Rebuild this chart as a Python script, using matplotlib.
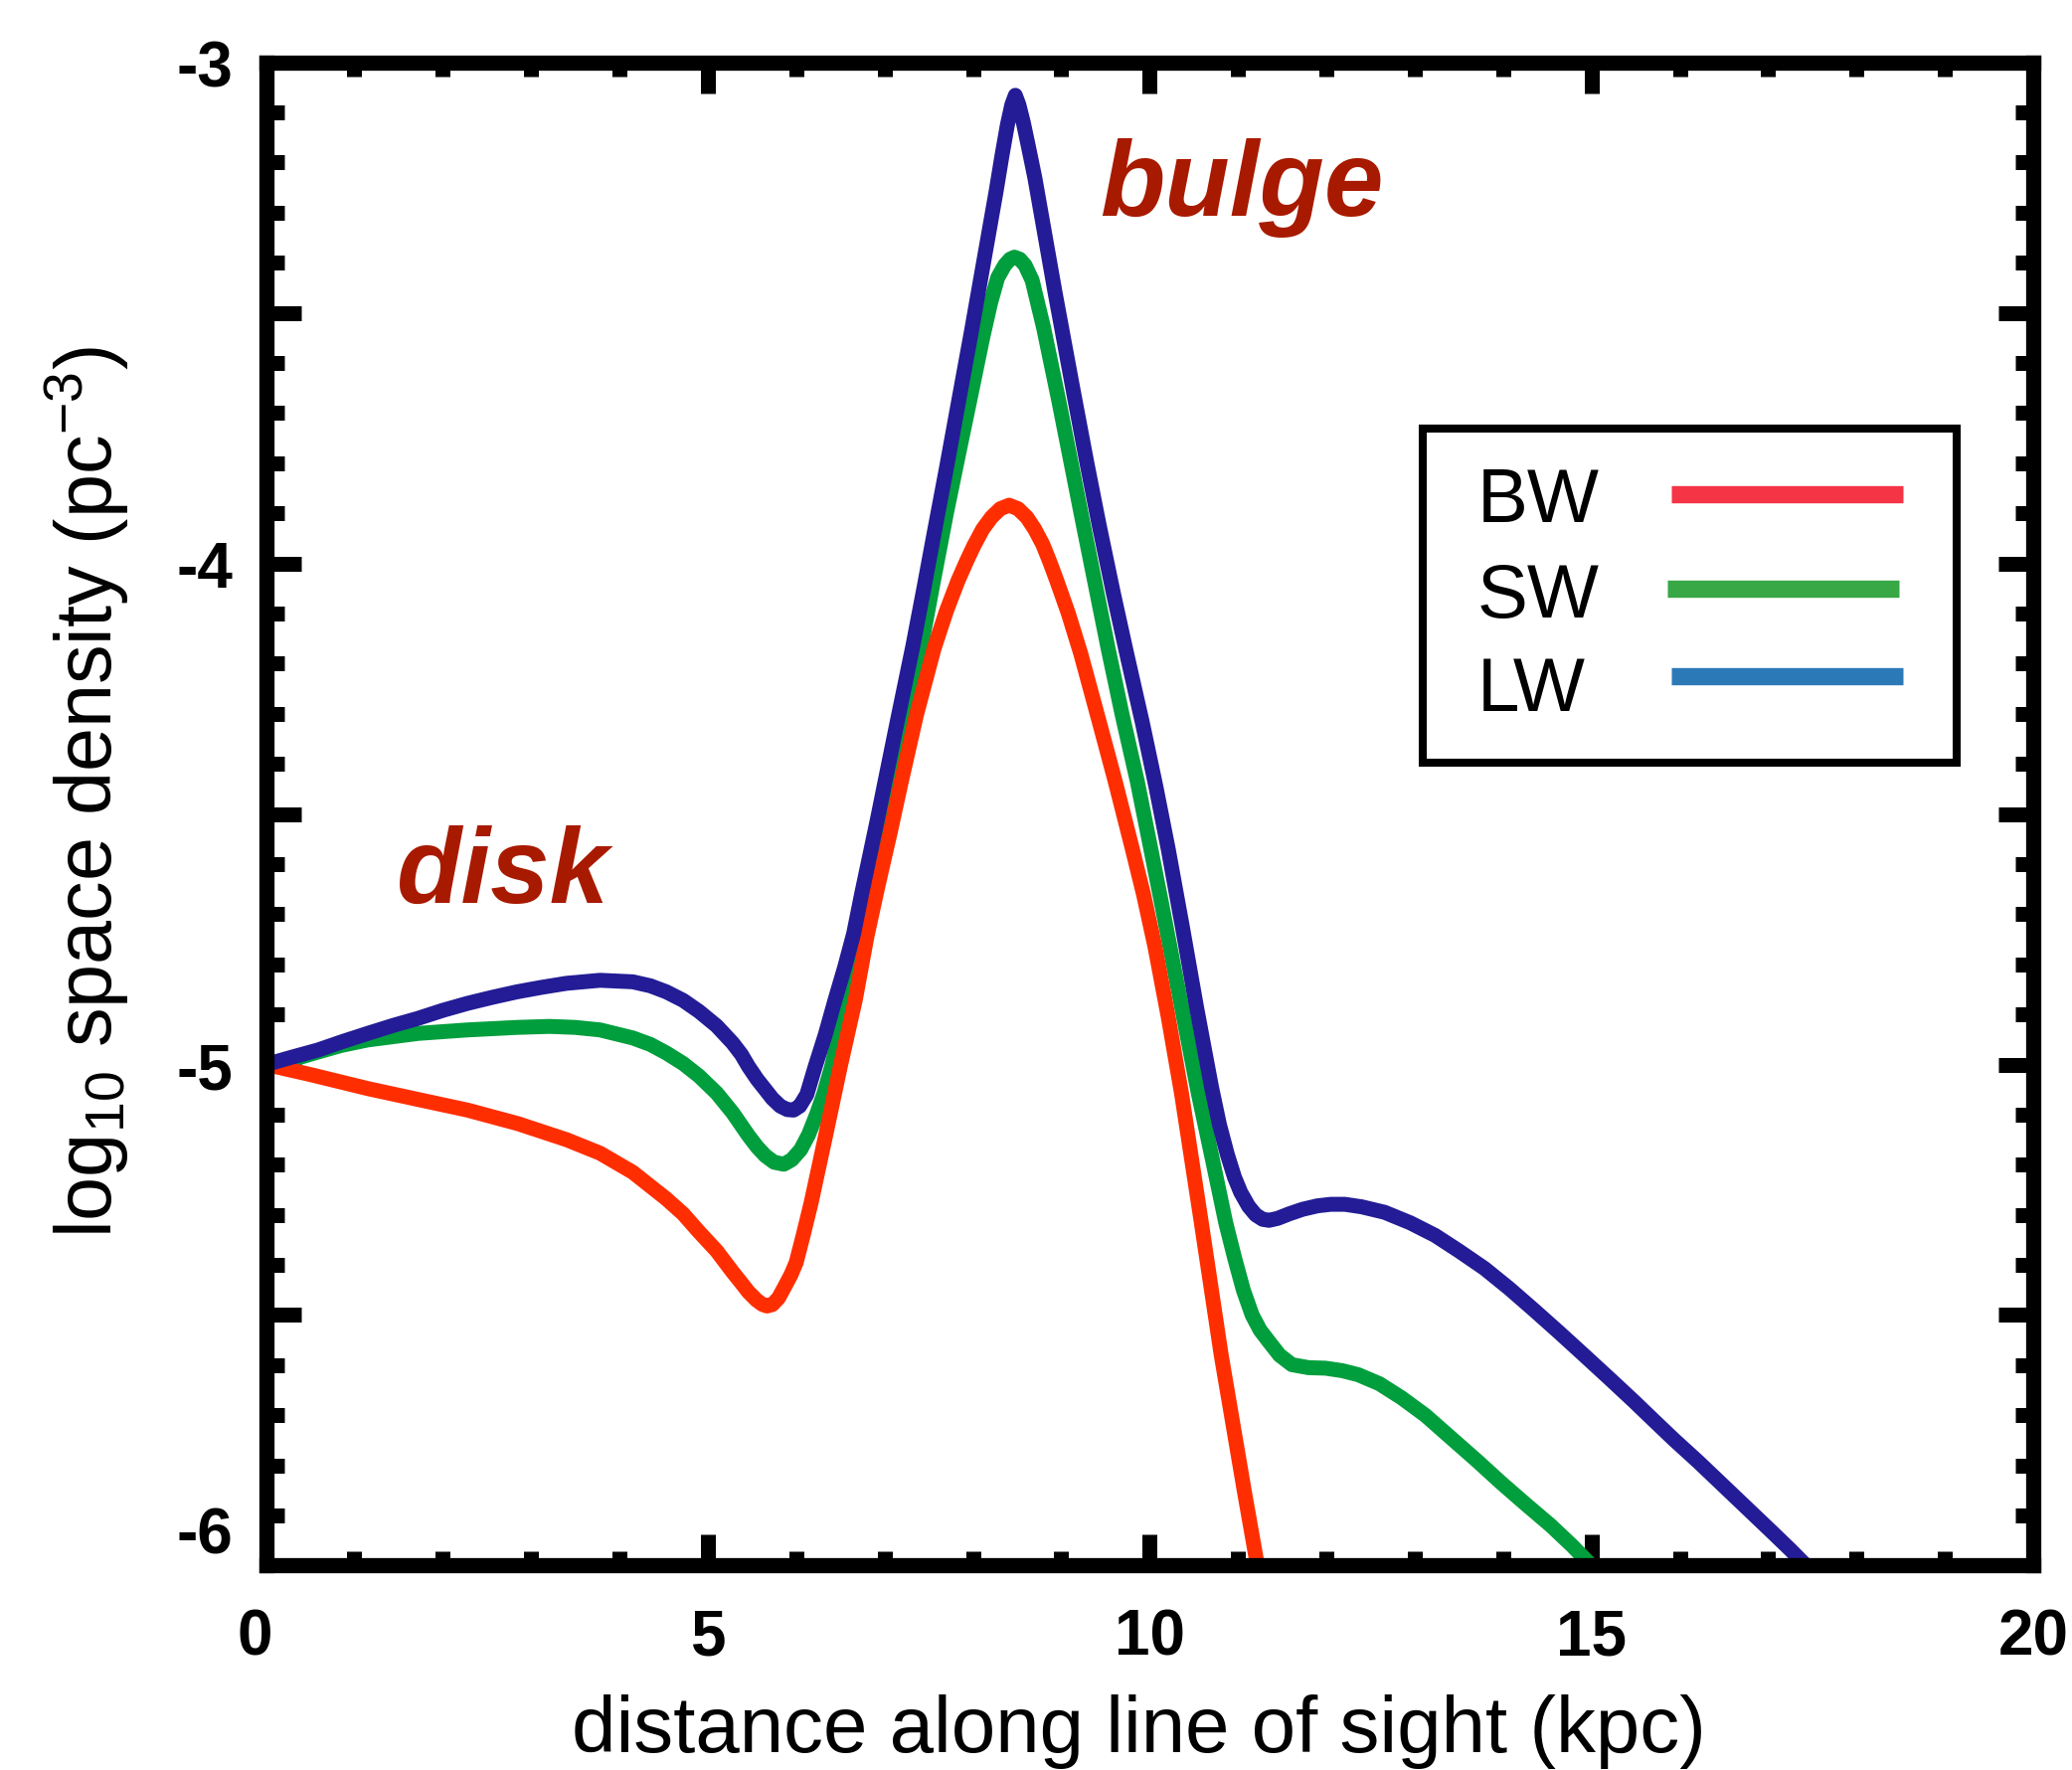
import matplotlib
matplotlib.use('Agg')
import matplotlib.pyplot as plt
import matplotlib.transforms as mtransforms
from matplotlib.patches import Rectangle
from matplotlib.ticker import MultipleLocator, FuncFormatter

plt.rcParams['font.family'] = ['Liberation Sans', 'DejaVu Sans']
plt.rcParams['mathtext.default'] = 'regular'

# values (kpc, log10 pc^-3)
bw_x = [0, 0.5, 1.15, 1.7, 2.28, 2.85, 3.40, 3.78, 4.15, 4.53, 4.72, 4.90, 5.10,
        5.28, 5.38, 5.46, 5.55, 5.62, 5.67, 5.73, 5.80, 5.88, 5.94, 6.00, 6.08,
        6.17, 6.34, 6.50, 6.67, 6.80, 6.93, 7.06, 7.19, 7.36, 7.56, 7.70, 7.83,
        7.93, 8.01, 8.11, 8.21, 8.31, 8.41, 8.51, 8.61, 8.70, 8.79, 8.87, 8.95,
        9.08, 9.22, 9.42, 9.61, 9.80, 9.93, 10.06, 10.21, 10.36, 10.58, 10.81,
        11.07, 11.22]
bw_y = [-5.0, -5.02, -5.048, -5.069, -5.091, -5.118, -5.150, -5.177, -5.215,
        -5.268, -5.298, -5.334, -5.372, -5.414, -5.436, -5.454, -5.470, -5.479,
        -5.482, -5.479, -5.466, -5.44, -5.42, -5.395, -5.34, -5.275, -5.136,
        -5.003, -4.87, -4.745, -4.64, -4.54, -4.435, -4.303, -4.17, -4.095, -4.035,
        -3.995, -3.965, -3.932, -3.908, -3.891, -3.884, -3.891, -3.908, -3.932,
        -3.962, -3.997, -4.035, -4.10, -4.18, -4.31, -4.435, -4.567, -4.66,
        -4.765, -4.905, -5.057, -5.31, -5.58, -5.85, -6.0]

sw_x = [0, 0.3, 0.59, 0.85, 1.15, 1.72, 2.28, 2.84, 3.21, 3.5, 3.78, 4.15, 4.35,
        4.53, 4.72, 4.90, 5.10, 5.28, 5.46, 5.56, 5.65, 5.75, 5.86, 5.95, 6.05,
        6.14, 6.23, 6.31, 6.40, 6.49, 6.60, 6.70, 6.81, 6.92, 7.11, 7.25, 7.41,
        7.55, 7.70, 7.84, 7.97, 8.11, 8.20, 8.28, 8.36, 8.42, 8.47, 8.53, 8.59,
        8.67, 8.80, 8.97, 9.10, 9.24, 9.38, 9.53, 9.69, 9.86, 10.01, 10.12, 10.23,
        10.40, 10.55, 10.71, 10.86, 10.96, 11.06, 11.16, 11.25, 11.35, 11.47,
        11.61, 11.80, 11.99, 12.18, 12.36, 12.60, 12.85, 13.12, 13.41, 13.70,
        13.98, 14.26, 14.54, 14.78, 15.0]
sw_y = [-5.0, -4.99, -4.975, -4.962, -4.951, -4.938, -4.931, -4.926, -4.924,
        -4.926, -4.931, -4.947, -4.96, -4.977, -4.998, -5.023, -5.057, -5.096,
        -5.142, -5.165, -5.182, -5.195, -5.199, -5.19, -5.17, -5.14, -5.10, -5.06,
        -5.005, -4.938, -4.84, -4.745, -4.66, -4.58, -4.435, -4.303, -4.17,
        -4.038, -3.90, -3.78, -3.67, -3.55, -3.48, -3.43, -3.405, -3.393, -3.389,
        -3.393, -3.405, -3.435, -3.53, -3.674, -3.79, -3.915, -4.038, -4.17,
        -4.303, -4.435, -4.567, -4.665, -4.765, -4.92, -5.057, -5.189, -5.315,
        -5.385, -5.45, -5.50, -5.53, -5.553, -5.58, -5.599, -5.605, -5.606,
        -5.611, -5.619, -5.637, -5.665, -5.70, -5.745, -5.79, -5.835, -5.878,
        -5.92, -5.96, -6.0]

lw_x = [0, 0.3, 0.59, 0.87, 1.15, 1.44, 1.72, 2.0, 2.28, 2.56, 2.84, 3.12, 3.40,
        3.78, 4.15, 4.35, 4.53, 4.72, 4.90, 5.10, 5.28, 5.38, 5.46, 5.56, 5.65,
        5.73, 5.82, 5.90, 5.97, 6.04, 6.12, 6.215, 6.33, 6.44, 6.55, 6.65, 6.74,
        6.83, 6.92, 7.00, 7.15, 7.32, 7.45, 7.55, 7.70, 7.85, 7.98, 8.11, 8.26,
        8.33, 8.39, 8.44, 8.48, 8.52, 8.57, 8.63, 8.70, 8.75, 8.93, 9.14, 9.29,
        9.43, 9.59, 9.74, 9.92, 10.07, 10.21, 10.37, 10.53, 10.70, 10.79, 10.88,
        10.96, 11.03, 11.12, 11.20, 11.28, 11.35, 11.45, 11.58, 11.73, 11.90,
        12.05, 12.21, 12.40, 12.66, 12.95, 13.23, 13.50, 13.79, 14.07, 14.35,
        14.63, 14.91, 15.20, 15.48, 15.71, 15.93, 16.21, 16.49, 16.77, 17.05,
        17.25, 17.43]
lw_y = [-5.0, -4.985, -4.971, -4.954, -4.938, -4.922, -4.908, -4.892, -4.878,
        -4.866, -4.855, -4.846, -4.838, -4.832, -4.835, -4.843, -4.855, -4.872,
        -4.894, -4.923, -4.957, -4.98, -5.004, -5.03, -5.05, -5.068, -5.083,
        -5.09, -5.091, -5.083, -5.06, -5.004, -4.94, -4.871, -4.805, -4.739,
        -4.66, -4.585, -4.51, -4.44, -4.31, -4.165, -4.045, -3.95, -3.81, -3.665,
        -3.54, -3.41, -3.26, -3.185, -3.125, -3.085, -3.066, -3.085, -3.12, -3.17,
        -3.23, -3.28, -3.46, -3.66, -3.80, -3.925, -4.06, -4.18, -4.32,
        -4.445, -4.57, -4.725, -4.885, -5.045, -5.12, -5.18, -5.225, -5.255,
        -5.283, -5.300, -5.309, -5.311, -5.307, -5.298, -5.289, -5.282, -5.279,
        -5.279, -5.284, -5.295, -5.316, -5.341, -5.372, -5.407, -5.447, -5.49,
        -5.534, -5.579, -5.626, -5.672, -5.711, -5.748, -5.793, -5.840, -5.887,
        -5.934, -5.968, -6.0]

labels = ['BW', 'SW', 'LW']
line_colors = ['#FF2E00', '#009E3D', '#231C96']
legend_colors = ['#F53446', '#37A845', '#2C79B8']

fig = plt.figure(figsize=(20.84, 17.81), dpi=100)
ax = fig.add_axes([0.1284, 0.1154, 0.8529, 0.8489])

# green underneath, then red, blue on top
ax.plot(sw_x, sw_y, color=line_colors[1], lw=10.8)
ax.plot(bw_x, bw_y, color=line_colors[0], lw=10.8)
ax.plot(lw_x, lw_y, color=line_colors[2], lw=10.8)

ax.set_xlim(0, 20)
ax.set_ylim(-6, -3)

for sp in ax.spines.values():
    sp.set_linewidth(11)

ax.xaxis.set_major_locator(MultipleLocator(5))
ax.xaxis.set_minor_locator(MultipleLocator(1))
ax.yaxis.set_major_locator(MultipleLocator(0.5))
ax.yaxis.set_minor_locator(MultipleLocator(0.1))
ax.yaxis.set_major_formatter(FuncFormatter(
    lambda v, p: '%d' % round(v) if abs(v - round(v)) < 1e-6 else ''))
ax.xaxis.set_major_formatter(FuncFormatter(lambda v, p: '%d' % round(v)))

ax.tick_params(which='both', direction='in', top=True, right=True, width=10.8)
ax.tick_params(axis='x', which='major', length=22, pad=30, labelsize=46)
ax.tick_params(axis='x', which='minor', length=10)
ax.tick_params(axis='y', which='major', length=25.5, pad=24, labelsize=46)
ax.tick_params(axis='y', which='minor', length=13)
for lab in ax.get_xticklabels() + ax.get_yticklabels():
    lab.set_fontweight('bold')

# the -6 and 0 labels sit a little off their ticks in the original
fig.canvas.draw()
for tick in ax.yaxis.get_major_ticks():
    if abs(tick.get_loc() + 6) < 1e-6:
        tick.label1.set_transform(tick.label1.get_transform() +
                                  mtransforms.ScaledTranslation(0, 26 / 72, fig.dpi_scale_trans))
for tick in ax.xaxis.get_major_ticks():
    if abs(tick.get_loc()) < 1e-6:
        tick.label1.set_transform(tick.label1.get_transform() +
                                  mtransforms.ScaledTranslation(-8 / 72, 0, fig.dpi_scale_trans))

ax.set_xlabel('distance along line of sight (kpc)', fontsize=57.5)
ax.xaxis.set_label_coords(0.494, -0.085)
ax.set_ylabel('log$_{10}$ space density (pc$^{-3}$)', fontsize=57)
ax.yaxis.set_label_coords(-0.076, 0.5155)

ax.text(9.44, -3.305, 'bulge', color='#A81A00', fontsize=77, fontweight='bold',
        style='italic', ha='left', va='baseline')
ax.text(1.48, -4.676, 'disk', color='#A81A00', fontsize=77, fontweight='bold',
        style='italic', ha='left', va='baseline')

# legend box: labels on the left, coloured bars on the right
ax.add_patch(Rectangle((0.6546, 0.5341), 0.3021, 0.2222, transform=ax.transAxes,
                       facecolor='white', edgecolor='black', lw=5.8, zorder=5))
label_y = [0.6948, 0.6313, 0.5691]
bar_y = [0.7127, 0.6498, 0.5916]
bar_x = [(0.7952, 0.9263), (0.7930, 0.9241), (0.7952, 0.9263)]
for lab, c, ty, by, bx in zip(labels, legend_colors, label_y, bar_y, bar_x):
    ax.text(0.6855, ty, lab, transform=ax.transAxes, fontsize=55,
            ha='left', va='baseline', zorder=6)
    ax.plot(bx, [by, by], transform=ax.transAxes, color=c, lw=12.5,
            solid_capstyle='butt', zorder=6, clip_on=False)

fig.savefig('out.png', dpi=100)
